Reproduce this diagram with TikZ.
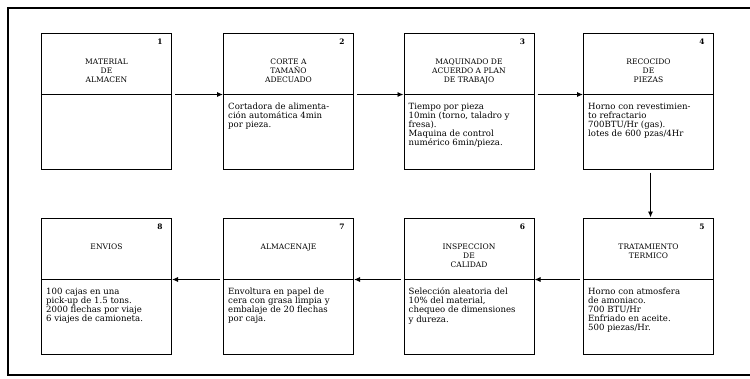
\documentclass[tikz,border=0pt]{standalone}
\usepackage{fontspec}
\setmainfont{DejaVu Serif}
\usetikzlibrary{arrows.meta, positioning}

\begin{document}
\begin{tikzpicture}[x=1bp, y=-1bp,
    stage/.style={draw, line width=1bp, minimum width=130bp, minimum height=136bp, inner sep=0pt},
    divider/.style={line width=0.5bp},
    num/.style={font=\fontsize{7.5}{8}\selectfont\bfseries, inner sep=0pt},
    title/.style={font=\fontsize{7.6}{9}\selectfont, align=center, anchor=north, inner sep=0pt},
    body/.style={font=\fontsize{8.6}{9.2}\selectfont, align=left, anchor=north west, inner sep=0pt},
    flow/.style={line width=0.9bp, -{Latex[length=6bp,width=5bp]}, shorten <=3bp},
    frame/.style={line width=1.6bp}]
  \useasboundingbox (0,0) rectangle (750,378);
  % outer frame, open on the right
  \draw[frame] (750,8) -- (8,8) -- (8,375) -- (750,375);

  % top row
  \node[stage] (m1) at (106.5,101) {};
  \node[stage] (m2) at (288.5,101) {};
  \node[stage] (m3) at (469,101) {};
  \node[stage] (m4) at (648.5,101) {};
  % bottom row
  \node[stage] (m8) at (106.5,286) {};
  \node[stage] (m7) at (288.5,286) {};
  \node[stage] (m6) at (469,286) {};
  \node[stage] (m5) at (648.5,286) {};

  \foreach \n in {1,...,8} {
    \draw[divider] ([yshift=-62bp]m\n.north west) -- ([yshift=-62bp]m\n.north east);
    \node[num] (n\n) at ([xshift=-12bp,yshift=-9bp]m\n.north east) {\n};
  }

  % titles
  \node[title] (t1) at ([yshift=-26bp]m1.north) {MATERIAL\\DE\\ALMACEN};
  \node[title] (t2) at ([yshift=-26bp]m2.north) {CORTE A\\TAMAÑO\\ADECUADO};
  \node[title] (t3) at ([yshift=-26bp]m3.north) {MAQUINADO DE\\ACUERDO A PLAN\\DE TRABAJO};
  \node[title] (t4) at ([yshift=-26bp]m4.north) {RECOCIDO\\DE\\PIEZAS};
  \node[title] (t5) at ([yshift=-26bp]m5.north) {TRATAMIENTO\\TERMICO};
  \node[title] (t6) at ([yshift=-26bp]m6.north) {INSPECCION\\DE\\CALIDAD};
  \node[title] (t7) at ([yshift=-26bp]m7.north) {ALMACENAJE};
  \node[title] (t8) at ([yshift=-26bp]m8.north) {ENVIOS};

  % descriptions
  \node[body] (d2) at ([xshift=5bp,yshift=-70bp]m2.north west)
    {Cortadora de alimenta-\\ción automática 4min\\por pieza.};
  \node[body] (d3) at ([xshift=5bp,yshift=-70bp]m3.north west)
    {Tiempo por pieza\\10min (torno, taladro y\\fresa).\\Maquina de control\\numérico 6min/pieza.};
  \node[body] (d4) at ([xshift=5bp,yshift=-70bp]m4.north west)
    {Horno con revestimien-\\to refractario\\700BTU/Hr (gas).\\lotes de 600 pzas/4Hr};
  \node[body] (d5) at ([xshift=5bp,yshift=-70bp]m5.north west)
    {Horno con atmosfera\\de amoniaco.\\700 BTU/Hr\\Enfriado en aceite.\\500 piezas/Hr.};
  \node[body] (d6) at ([xshift=5bp,yshift=-70bp]m6.north west)
    {Selección aleatoria del\\10\% del material,\\chequeo de dimensiones\\y dureza.};
  \node[body] (d7) at ([xshift=5bp,yshift=-70bp]m7.north west)
    {Envoltura en papel de\\cera con grasa limpia y\\embalaje de 20 flechas\\por caja.};
  \node[body] (d8) at ([xshift=5bp,yshift=-70bp]m8.north west)
    {100 cajas en una\\pick-up de 1.5 tons.\\2000 flechas por viaje\\6 viajes de camioneta.};

  % flow
  \draw[flow] ([yshift=-62bp]m1.north east) -- ([yshift=-62bp]m2.north west);
  \draw[flow] ([yshift=-62bp]m2.north east) -- ([yshift=-62bp]m3.north west);
  \draw[flow] ([yshift=-62bp]m3.north east) -- ([yshift=-62bp]m4.north west);
  \draw[flow] ([xshift=2bp]m4.south) -- ([xshift=2bp]m5.north);
  \draw[flow] ([yshift=-62bp]m5.north west) -- ([yshift=-62bp]m6.north east);
  \draw[flow] ([yshift=-62bp]m6.north west) -- ([yshift=-62bp]m7.north east);
  \draw[flow] ([yshift=-62bp]m7.north west) -- ([yshift=-62bp]m8.north east);
\end{tikzpicture}
\end{document}
